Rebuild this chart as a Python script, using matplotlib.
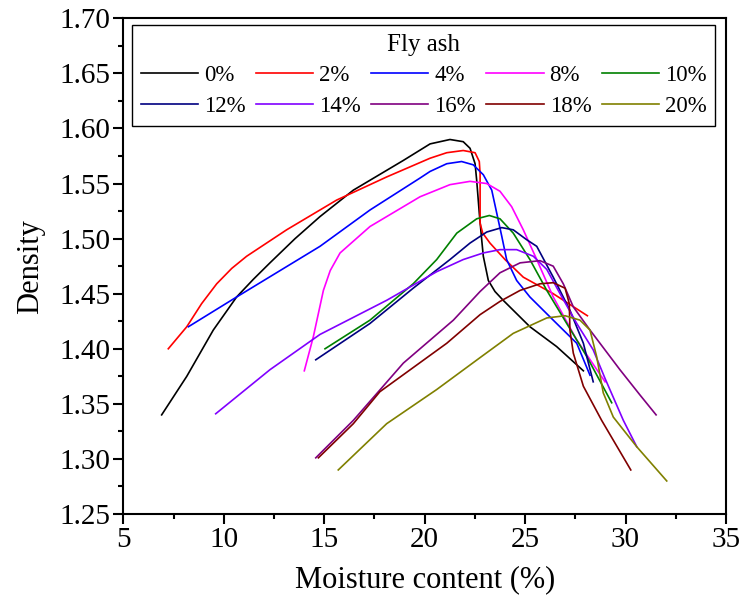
import numpy as np
import matplotlib
matplotlib.use('Agg')
from matplotlib import pyplot as plt
from matplotlib.ticker import MultipleLocator, FormatStrFormatter

# fly ash content labels
labels = ['0%', '2%', '4%', '8%', '10%', '12%', '14%', '16%', '18%', '20%']

# moisture content (%) / density
moist_00 = [6.91, 8.16, 9.48, 10.64, 11.47, 12.30, 13.55, 14.79, 16.45, 18.94, 20.27, 21.26, 21.92,
            22.26, 22.51, 22.59, 22.72, 22.84, 22.92, 23.17, 23.50, 23.91, 25.24, 26.57, 27.90]
dens_00 = [1.340, 1.375, 1.417, 1.447, 1.463, 1.478, 1.500, 1.520, 1.544, 1.571, 1.586, 1.590, 1.588,
           1.582, 1.568, 1.553, 1.523, 1.499, 1.484, 1.462, 1.452, 1.444, 1.420, 1.402, 1.380]

moist_02 = [7.24, 8.16, 8.90, 9.65, 10.40, 11.14, 13.13, 15.62, 18.11, 20.27, 21.10, 21.92, 22.51,
            22.72, 22.76, 22.76, 22.76, 22.89, 23.25, 24.00, 24.91, 26.40, 28.10]
dens_02 = [1.400, 1.420, 1.441, 1.459, 1.473, 1.484, 1.508, 1.535, 1.556, 1.573, 1.578, 1.580, 1.578,
           1.570, 1.559, 1.538, 1.514, 1.505, 1.496, 1.481, 1.465, 1.450, 1.430]

moist_04 = [8.24, 10.64, 14.79, 17.28, 19.77, 20.27, 21.10, 21.84, 22.42, 22.92, 23.34, 23.59,
            23.84, 24.08, 24.58, 25.24, 26.40, 27.57, 28.23]
dens_04 = [1.420, 1.447, 1.493, 1.526, 1.555, 1.561, 1.568, 1.570, 1.567, 1.558, 1.544, 1.523,
           1.502, 1.481, 1.462, 1.447, 1.426, 1.405, 1.376]

moist_08 = [14.01, 14.46, 14.96, 15.30, 15.79, 17.28, 19.77, 21.26, 22.26, 23.09, 23.75, 24.33,
            24.91, 25.58, 26.40, 27.57, 28.98]
dens_08 = [1.380, 1.411, 1.453, 1.471, 1.487, 1.511, 1.538, 1.549, 1.552, 1.550, 1.543, 1.529,
           1.508, 1.481, 1.447, 1.408, 1.370]

moist_10 = [15.04, 17.28, 19.43, 20.60, 21.60, 22.59, 23.22, 23.75, 24.41, 25.24, 26.08, 27.07,
            28.07, 29.31]
dens_10 = [1.400, 1.426, 1.459, 1.481, 1.505, 1.518, 1.521, 1.518, 1.505, 1.481, 1.453, 1.423,
           1.393, 1.351]

moist_12 = [14.58, 17.28, 19.43, 21.26, 22.26, 23.09, 23.84, 24.41, 25.08, 25.58, 26.40, 27.23,
            27.90, 28.39]
dens_12 = [1.390, 1.423, 1.455, 1.481, 1.496, 1.506, 1.510, 1.508, 1.499, 1.493, 1.465, 1.435,
           1.405, 1.370]

moist_14 = [9.60, 12.30, 14.79, 18.11, 20.60, 21.92, 22.92, 23.75, 24.58, 25.41, 26.08, 26.74,
            27.57, 28.39, 28.98, 29.89, 30.56]
dens_14 = [1.341, 1.381, 1.413, 1.444, 1.470, 1.481, 1.487, 1.490, 1.490, 1.484, 1.472, 1.450,
           1.423, 1.399, 1.373, 1.335, 1.311]

moist_16 = [14.58, 16.45, 18.94, 21.43, 22.76, 23.75, 24.75, 25.74, 26.40, 26.90, 27.40, 28.23,
            29.72, 30.72, 31.52]
dens_16 = [1.301, 1.335, 1.387, 1.426, 1.452, 1.469, 1.478, 1.480, 1.475, 1.459, 1.438, 1.417,
           1.381, 1.358, 1.340]

moist_18 = [14.71, 16.45, 17.77, 21.10, 22.76, 23.75, 24.75, 25.74, 26.40, 26.99, 27.20, 27.23,
            27.40, 27.90, 28.81, 30.26]
dens_18 = [1.301, 1.332, 1.361, 1.405, 1.431, 1.443, 1.453, 1.459, 1.460, 1.455, 1.441, 1.417,
           1.396, 1.366, 1.335, 1.290]

moist_20 = [15.70, 18.11, 20.60, 22.76, 24.41, 26.08, 26.99, 27.73, 28.23, 28.56, 28.89, 29.39,
            30.56, 32.05]
dens_20 = [1.290, 1.332, 1.363, 1.392, 1.414, 1.428, 1.430, 1.426, 1.417, 1.393, 1.360, 1.338,
           1.311, 1.280]

moist_all = [moist_00, moist_02, moist_04, moist_08, moist_10,
             moist_12, moist_14, moist_16, moist_18, moist_20]
dens_all = [dens_00, dens_02, dens_04, dens_08, dens_10,
            dens_12, dens_14, dens_16, dens_18, dens_20]

colors = ['#000000', '#FF0000', '#0000FF', '#FF00FF', '#008000',
          '#000080', '#8000FF', '#800080', '#800000', '#808000']

plt.rcParams['font.family'] = ['Liberation Serif', 'DejaVu Serif']

fig = plt.figure(figsize=(7.4, 5.99), dpi=100)
ax = fig.add_axes([0.1666, 0.1419, 0.8145, 0.8275])

lines = []
for i in range(len(labels)):
    ln, = ax.plot(moist_all[i], dens_all[i], color=colors[i], lw=1.2, label=labels[i])
    lines.append(ln)

ax.set_xlim(5, 35)
ax.set_ylim(1.25, 1.70)
ax.xaxis.set_major_locator(MultipleLocator(5))
ax.xaxis.set_minor_locator(MultipleLocator(2.5))
ax.yaxis.set_major_locator(MultipleLocator(0.05))
ax.yaxis.set_minor_locator(MultipleLocator(0.025))
ax.yaxis.set_major_formatter(FormatStrFormatter('%.2f'))

for sp in ax.spines.values():
    sp.set_linewidth(1.5)
ax.tick_params(which='both', direction='out', width=1.5, top=False, right=False)
ax.tick_params(which='major', length=7.2, labelsize=21, pad=2)
ax.tick_params(which='minor', length=3.5)

ax.set_xlabel('Moisture content (%)', fontsize=22, labelpad=9)
ax.set_ylabel('Density', fontsize=22, labelpad=10)

# legend filled row by row (matplotlib fills columns first)
order = [0, 5, 1, 6, 2, 7, 3, 8, 4, 9]
leg = ax.legend([lines[k] for k in order], [labels[k] for k in order],
                ncol=5, title='Fly ash', fontsize=16.5, title_fontsize=18,
                loc='upper left', bbox_to_anchor=(0.0144, 0.9865), borderaxespad=0,
                handlelength=2.5, handletextpad=0.26, columnspacing=0.45,
                labelspacing=0.42, borderpad=0.38, fancybox=False, framealpha=1)
leg.get_frame().set_edgecolor('black')
leg.get_frame().set_linewidth(1.0)

plt.savefig('out.png', dpi=100)
